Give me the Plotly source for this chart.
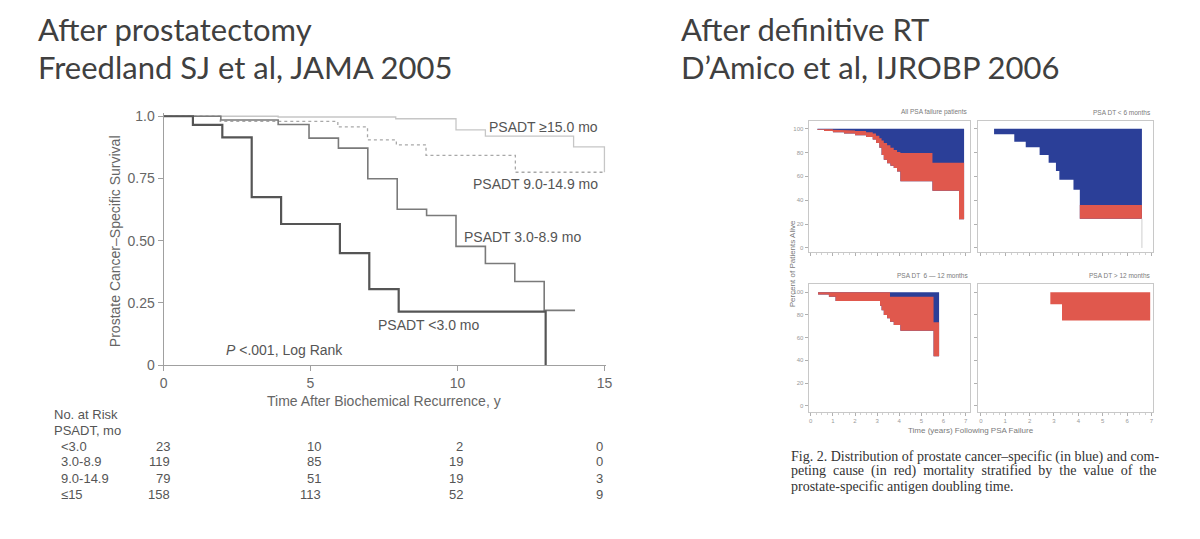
import plotly.graph_objects as go

W, H = 1200, 539

# ---------------- Left chart: Freedland SJ et al, JAMA 2005 ----------------
lt3_time = [0, 1, 2, 3, 4, 6, 7, 8, 13]
lt3_surv = [1.0, 0.965, 0.915, 0.675, 0.567, 0.45, 0.305, 0.215, 0.0]

mid_time = [0, 1.95, 3.9, 4.95, 5.95, 6.95, 7.95, 8.95, 9.95, 10.95, 11.95, 12.95, 14.0]
mid_surv = [1.0, 0.985, 0.967, 0.912, 0.872, 0.749, 0.626, 0.601, 0.477, 0.408, 0.336, 0.22, 0.22]

slow_time = [0, 1.93, 5.93, 6.94, 7.92, 8.93, 11.97, 15.0]
slow_surv = [1.0, 0.979, 0.957, 0.905, 0.885, 0.843, 0.775, 0.775]

ge15_time = [0, 3.9, 7.9, 9.95, 10.95, 13.95, 15.0]
ge15_surv = [1.0, 0.997, 0.99, 0.945, 0.92, 0.877, 0.775]

km_xticks = [0, 5, 10, 15]
km_yticks = [0, 0.25, 0.5, 0.75, 1.0]
km_yticktext = ["0", "0.25", "0.50", "0.75", "1.0"]

risk_groups = ["&lt;3.0", "3.0-8.9", "9.0-14.9", "≤15"]
risk_lt3 = [23, 10, 2, 0]
risk_3_9 = [119, 85, 19, 0]
risk_9_15 = [79, 51, 19, 3]
risk_ge15 = [158, 113, 52, 9]

# ---------------- Right chart: D'Amico et al, IJROBP 2006 ----------------
# each panel: step times, % alive, % alive + competing-cause deaths, last time
all_time = [0.3, 0.6, 1.0, 1.5, 2.0, 2.5, 2.8, 2.95, 3.1, 3.2, 3.3, 3.45, 3.6, 3.75, 3.9, 4.05, 5.5, 6.7]
all_alive = [99, 98, 97, 96, 94.5, 93, 91, 88, 84, 78, 74, 71, 69, 67, 64, 56, 48, 24]
all_redtop = [99.8, 99.5, 99, 98.5, 98, 97, 96, 94, 92, 90, 88, 86, 84, 82, 80.5, 79.5, 71.5, 71.5]
all_end = 6.93

lt6_time = [0.54, 1.37, 1.84, 2.41, 2.78, 3.08, 3.22, 3.8, 4.06]
lt6_alive = [95.4, 89, 84.5, 78, 71.5, 64.6, 57.2, 48.8, 24.5]
lt6_redtop = [95.4, 89, 84.5, 78, 71.5, 64.6, 57.2, 48.8, 36]
lt6_end = 6.61

m612_time = [0.33, 0.82, 1.12, 3.13, 3.2, 3.3, 3.45, 3.58, 3.75, 4.05, 5.55]
m612_alive = [98, 96, 92.3, 88, 84, 80, 77, 74, 71, 66, 43.6]
m612_redtop = [100, 100, 100, 100, 100, 100, 100, 96, 96, 96, 73.6]
m612_end = 5.8

gt12_time = [2.85, 3.33]
gt12_alive = [89.4, 75]
gt12_redtop = [100, 100]
gt12_end = 6.95

panel_titles = ["All PSA failure patients", "PSA DT < 6 months",
                "PSA DT  6 — 12 months", "PSA DT > 12 months"]
panel_yticks = [0, 20, 40, 60, 80, 100]
panel_xticks = [0, 1, 2, 3, 4, 5, 6, 7]

caption_lines = [
    "Fig. 2. Distribution of prostate cancer–specific (in blue) and com-",
    "peting cause (in red) mortality stratified by the value of the",
    "prostate-specific antigen doubling time.",
]

BLUE = "#2b3f98"
RED = "#e0584d"


def px(x):
    return x / W


def py(y):
    return 1 - y / H


def step_path(t, v, end):
    xs, ys = [], []
    for i in range(len(t)):
        x0 = t[i]
        x1 = t[i + 1] if i + 1 < len(t) else end
        xs += [x0, x1]
        ys += [v[i], v[i]]
    return xs, ys


fig = go.Figure()

# ---- KM curves
km_styles = [
    (ge15_time, ge15_surv, dict(color="#c6c6c6", width=1.3)),
    (slow_time, slow_surv, dict(color="#a8a8a8", width=1.3, dash="dot")),
    (mid_time, mid_surv, dict(color="#7a7a7a", width=1.6)),
    (lt3_time, lt3_surv, dict(color="#555555", width=2.2)),
]
for t, s, ln in km_styles:
    fig.add_trace(go.Scatter(x=t, y=s, mode="lines", line=ln, line_shape="hv",
                             xaxis="x", yaxis="y", showlegend=False, hoverinfo="skip"))

# ---- D'Amico panels
panels = [
    (all_time, all_alive, all_redtop, all_end, "x2", "y2"),
    (lt6_time, lt6_alive, lt6_redtop, lt6_end, "x3", "y3"),
    (m612_time, m612_alive, m612_redtop, m612_end, "x4", "y4"),
    (gt12_time, gt12_alive, gt12_redtop, gt12_end, "x5", "y5"),
]
for t, alive, redtop, end, xa, ya in panels:
    ax, ay = step_path(t, alive, end)
    rx, ry = step_path(t, redtop, end)
    top = [100] * len(ax)
    bx = ax + ax[::-1]
    by = top + ay[::-1]
    if any(r < 100 for r in redtop):
        fig.add_trace(go.Scatter(x=bx, y=by, fill="toself", fillcolor=BLUE, mode="lines",
                                 line=dict(width=0, color=BLUE), xaxis=xa, yaxis=ya,
                                 showlegend=False, hoverinfo="skip"))
    qx = rx + ax[::-1]
    qy = ry + ay[::-1]
    fig.add_trace(go.Scatter(x=qx, y=qy, fill="toself", fillcolor=RED, mode="lines",
                             line=dict(width=0, color=RED), xaxis=xa, yaxis=ya,
                             showlegend=False, hoverinfo="skip"))

fig.add_trace(go.Scatter(x=[lt6_end, lt6_end], y=[lt6_alive[-1], 0], mode="lines",
                         line=dict(color="#cfcfcf", width=1), xaxis="x3", yaxis="y3",
                         showlegend=False, hoverinfo="skip"))

# ---------------- axes ----------------
AXC = "#a0a0a0"
km_x0, km_x1 = 161, 606
km_y0, km_y1 = 369, 114
xr = [0, 15.05]
yr = [0, 1.012]
xpx_per = (km_x1 - km_x0) / 15
ypx_per = (km_y0 - km_y1) / 1.0

layout = dict(
    width=W, height=H, margin=dict(l=0, r=0, t=0, b=0),
    paper_bgcolor="white", plot_bgcolor="white", showlegend=False,
    xaxis=dict(domain=[px(km_x0), px(km_x0 + xpx_per * xr[1])], range=xr, anchor="y",
               tickvals=km_xticks, ticks="outside", ticklen=5, tickcolor=AXC,
               showline=True, linecolor=AXC, linewidth=1, showgrid=False, zeroline=False,
               tickfont=dict(family="Liberation Sans", size=14, color="#666666")),
    yaxis=dict(domain=[py(km_y0), py(km_y0 - ypx_per * yr[1])], range=yr, anchor="x",
               tickvals=km_yticks, ticktext=km_yticktext, ticks="outside", ticklen=5,
               tickcolor=AXC, showline=True, linecolor=AXC, linewidth=1, showgrid=False,
               zeroline=False,
               tickfont=dict(family="Liberation Sans", size=14, color="#666666")),
)

PLC = "#c8c8c8"
col_frames = {"L": (812, 975, [-0.1, 7.2]), "R": (983, 1160, [-0.12, 7.08])}
row_frames = {"T": (119, 253, [-3.3, 106.3]), "B": (286, 417, [-5.4, 107.1])}
panel_pos = [("L", "T"), ("R", "T"), ("L", "B"), ("R", "B")]
for i, (c, r) in enumerate(panel_pos):
    n = i + 2
    cx0, cx1, cxr = col_frames[c]
    ry0, ry1, ryr = row_frames[r]
    layout[f"xaxis{n}"] = dict(
        domain=[px(cx0), px(cx1)], range=cxr, anchor=f"y{n}",
        tickvals=panel_xticks, ticks="outside", ticklen=3, tickcolor="#b0b0b0",
        showticklabels=(r == "B"), showline=True, mirror=True, linecolor=PLC,
        linewidth=1, showgrid=False, zeroline=False,
        minor=dict(ticks="outside", ticklen=2, dtick=0.25, tickcolor="#d0d0d0"),
        tickfont=dict(family="Liberation Sans", size=6, color="#9a9a9a"))
    layout[f"yaxis{n}"] = dict(
        domain=[py(ry1), py(ry0)], range=ryr, anchor=f"x{n}",
        tickvals=panel_yticks, ticks="outside", ticklen=3, tickcolor="#b0b0b0",
        showticklabels=(c == "L"), showline=True, mirror=True, linecolor=PLC,
        linewidth=1, showgrid=False, zeroline=False,
        tickfont=dict(family="Liberation Sans", size=6, color="#9a9a9a"))

fig.update_layout(**layout)

# ---------------- annotations ----------------
ann = []


def text(x, y, s, size, color, family, xanchor="left", angle=0, yanchor="middle"):
    ann.append(dict(x=px(x), y=py(y), xref="paper", yref="paper", text=s, showarrow=False,
                    xanchor=xanchor, yanchor=yanchor, textangle=angle,
                    font=dict(size=size, color=color, family=family)))


TF = "Lato"
TC = "#404040"
text(32, 25, "After prostatectomy", 31, TC, TF)
text(32, 64, "Freedland SJ et al, JAMA 2005", 31, TC, TF)
text(681, 25, "After definitive RT", 31, TC, TF)
text(681, 64, "D’Amico et al, IJROBP 2006", 31, TC, TF)

LF = "Liberation Sans"
LC = "#555555"
text(602, 125, "PSADT ≥15.0 mo", 14, LC, LF, xanchor="right")
text(602, 183, "PSADT 9.0-14.9 mo", 14, LC, LF, xanchor="right")
text(462, 238, "PSADT 3.0-8.9 mo", 14, LC, LF)
text(375, 328, "PSADT &lt;3.0 mo", 14, LC, LF)
text(222, 354, "<i>P</i> &lt;.001, Log Rank", 14, LC, LF)
text(112, 242, "Prostate Cancer–Specific Survival", 14, "#666666", LF, xanchor="center", angle=-90)
text(384, 406, "Time After Biochemical Recurrence, y", 14, "#666666", LF, xanchor="center")

text(48, 420, "No. at Risk", 13, LC, LF)
text(48, 436, "PSADT, mo", 13, LC, LF)
risk_rows = [risk_lt3, risk_3_9, risk_9_15, risk_ge15]
risk_row_y = [452, 468, 485, 502]
risk_col_x = [170, 322, 465, 607]
for g, row, yy in zip(risk_groups, risk_rows, risk_row_y):
    text(56, yy, g, 13, LC, LF)
    for v, xx in zip(row, risk_col_x):
        text(xx, yy, str(v), 13, LC, LF, xanchor="right")

SC = "#7a7a7a"
title_pos = [(975, 110), (1160, 110), (975, 277), (1160, 277)]
for s, (xx, yy) in zip(panel_titles, title_pos):
    text(xx, yy, s, 6.5, SC, LF, xanchor="right")
text(796, 265, "Percent of Patients Alive", 8, SC, LF, xanchor="center", angle=-90)
text(976, 436, "Time (years) Following PSA Failure", 8, SC, LF, xanchor="center")

CF = "Liberation Serif"
CC = "#333333"
cap_y = [463, 478, 493]
for k, (line, yy) in enumerate(zip(caption_lines, cap_y)):
    s = line.replace(" ", " \u2005") if k == 1 else line
    text(792, yy, s, 14, CC, CF)

fig.update_layout(annotations=ann)
fig.write_html("out.html")
